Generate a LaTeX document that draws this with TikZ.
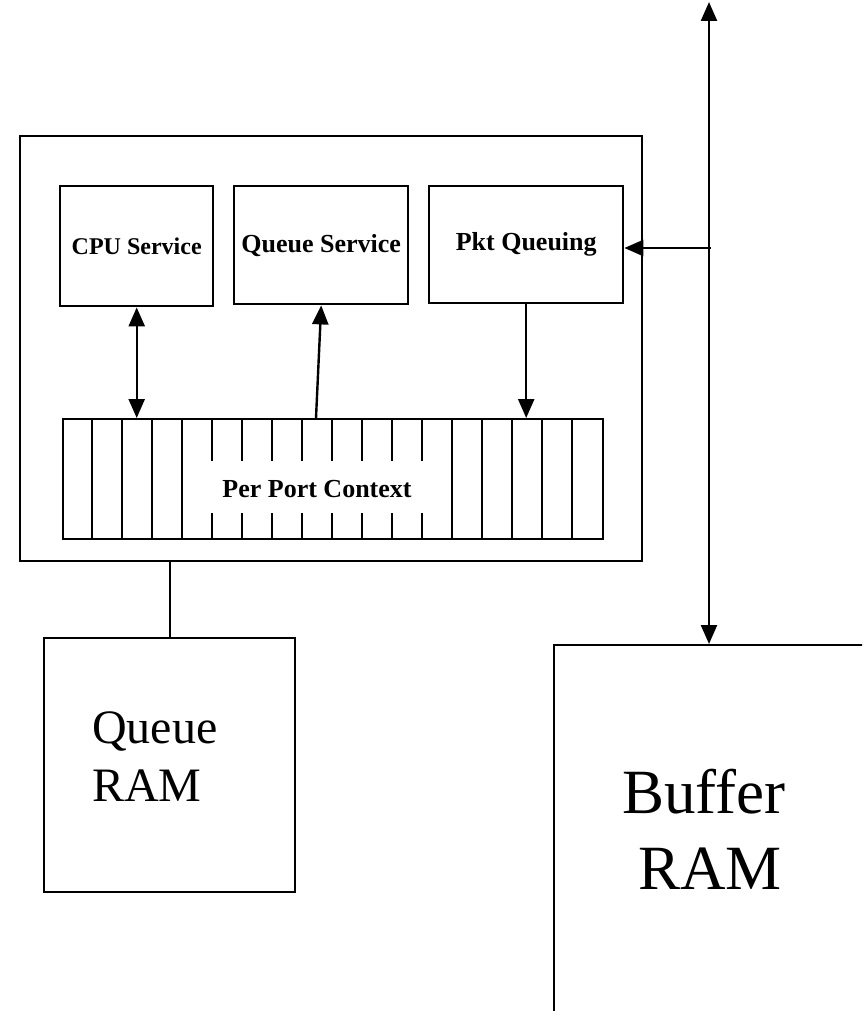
\documentclass[tikz,border=0pt]{standalone}
\usepackage{fontspec}
\setmainfont{Liberation Serif}
\usetikzlibrary{arrows.meta,calc}

\tikzset{
  wire/.style={line width=2.4pt, line cap=butt},
  tip/.style={-{Triangle[length=19pt,width=16pt]}},
  dtip/.style={{Triangle[length=19pt,width=16pt]}-{Triangle[length=19pt,width=16pt]}},
  box/.style={draw, line width=2.4pt, anchor=north west, inner sep=0pt},
  lbl/.style={font=\bfseries\fontsize{26}{31}\selectfont}
}

\begin{document}
\begin{tikzpicture}[x=1pt, y=-1pt]
  \useasboundingbox (0,0) rectangle (862,1011);
  \clip (0,0) rectangle (862,1011);

  % enclosing block
  \node[box, minimum width=622pt, minimum height=425pt] (outer) at (19,135) {};

  % service blocks
  \node[box, minimum width=153pt, minimum height=120pt] (cpu) at (59,185) {};
  \node[font=\bfseries\fontsize{24}{29}\selectfont] (cpul) at (cpu.center) {CPU Service};
  \node[box, minimum width=174pt, minimum height=118pt] (qsvc) at (233,185) {};
  \node[lbl] (qsvcl) at (qsvc.center) {Queue Service};
  \node[box, minimum width=194pt, minimum height=117pt] (pkt) at (428,185) {};
  \node[lbl] (pktl) at (pkt.center) {Pkt Queuing};

  % per port context strip
  \node[box, minimum width=540pt, minimum height=120pt] (strip) at (62,418) {};
  \foreach \i in {1,...,17}{
    \pgfmathsetmacro{\xx}{62+30*\i}
    \ifnum\i>4 \ifnum\i<13
      \draw[wire] (\xx,418) -- (\xx,461) (\xx,513) -- (\xx,538);
    \else
      \draw[wire] (\xx,418) -- (\xx,538);
    \fi\else
      \draw[wire] (\xx,418) -- (\xx,538);
    \fi
  }
  \node[lbl] (ctx) at (317,489) {Per Port Context};

  % memories
  \node[box, minimum width=251pt, minimum height=254pt] (qram) at (43,637) {};
  \node[font=\fontsize{48}{58}\selectfont, align=left, anchor=north west, inner sep=0pt]
    (qraml) at (92,712) {Queue\\RAM};
  \node[box, minimum width=400pt, minimum height=500pt] (bram) at (553,644) {};
  \node[font=\fontsize{63}{77}\selectfont] (bufl) at (704,792) {Buffer};
  \node[font=\fontsize{63}{77}\selectfont] (raml) at (710,869) {RAM};

  % connectors
  \coordinate (bustop) at (709,2);
  \coordinate (busbot) at (709,644);
  \coordinate (tap) at (711,248);
  \draw[wire, dtip] (cpu.south) -- (cpu.south |- strip.north);
  \draw[wire, tip] ($(strip.north west)+(254,0)$) -- (qsvc.south);
  \draw[wire, tip] (pkt.south) -- (pkt.south |- strip.north);
  \draw[wire, dtip] (busbot) -- (bustop);
  \draw[wire, tip] (tap) -- (pkt.east |- tap);
  \draw[wire] (qram.north |- outer.south) -- (qram.north);
\end{tikzpicture}
\end{document}
